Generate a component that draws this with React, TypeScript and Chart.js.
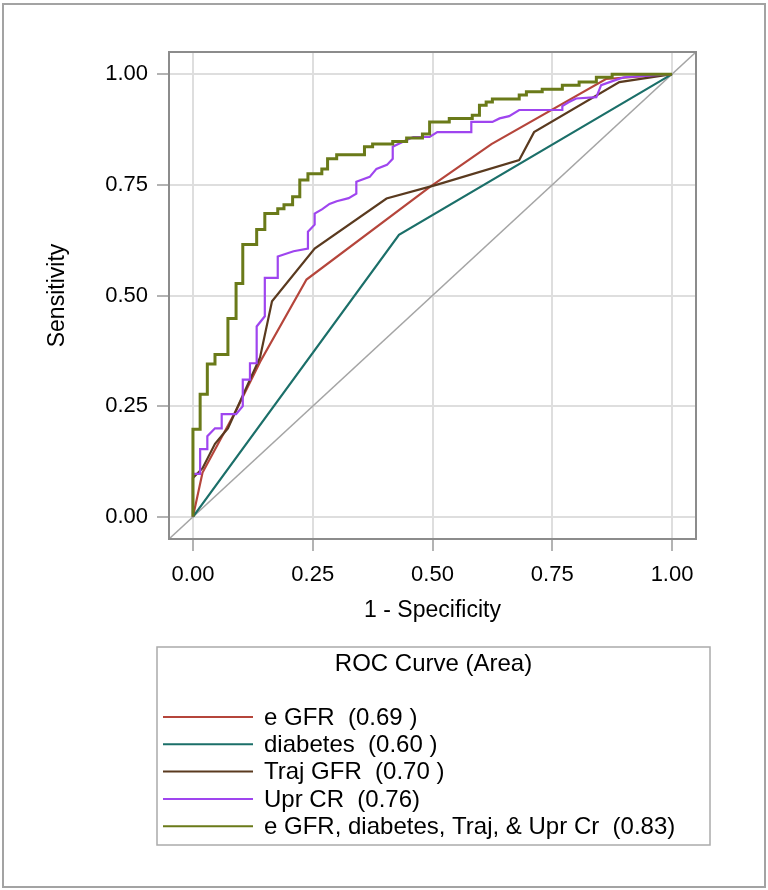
import React, { useEffect, useRef } from "react";
import { Chart, registerables } from "chart.js";

Chart.register(...registerables);

// ---------- data ----------
const tickValues = [0, 0.25, 0.5, 0.75, 1];
const axisMin = -0.05;
const axisMax = 1.05;

const refX = [-0.05, 1.05];
const refY = [-0.05, 1.05];

const egfrX = [0, 0.02, 0.09, 0.14, 0.237, 0.494, 0.623, 0.862, 1];
const egfrY = [0, 0.1, 0.24, 0.35, 0.536, 0.745, 0.842, 0.989, 1];

const diabetesX = [0, 0.43, 1];
const diabetesY = [0, 0.637, 1];

const trajX = [0, 0, 0.02, 0.046, 0.073, 0.14, 0.165, 0.254, 0.404, 0.508, 0.681, 0.712, 0.89, 1];
const trajY = [0, 0.088, 0.11, 0.165, 0.2, 0.36, 0.487, 0.606, 0.719, 0.75, 0.806, 0.869, 0.982, 1];

const uprX = [
  0, 0, 0.015, 0.015, 0.03, 0.03, 0.046, 0.06, 0.06, 0.09, 0.104, 0.104, 0.119, 0.119, 0.133, 0.133,
  0.15, 0.15, 0.177, 0.177, 0.21, 0.24, 0.24, 0.254, 0.254, 0.27, 0.285, 0.3, 0.325, 0.341, 0.341,
  0.369, 0.383, 0.405, 0.417, 0.417, 0.446, 0.46, 0.494, 0.51, 0.581, 0.581, 0.625, 0.64, 0.66, 0.681,
  0.771, 0.771, 0.785, 0.8, 0.842, 0.852, 0.883, 0.9, 1,
];
const uprY = [
  0, 0.097, 0.097, 0.153, 0.153, 0.182, 0.2, 0.2, 0.232, 0.232, 0.25, 0.31, 0.31, 0.347, 0.347, 0.43,
  0.453, 0.54, 0.54, 0.588, 0.6, 0.606, 0.644, 0.66, 0.685, 0.695, 0.707, 0.713, 0.72, 0.73, 0.757,
  0.768, 0.786, 0.795, 0.809, 0.836, 0.851, 0.858, 0.858, 0.869, 0.869, 0.892, 0.892, 0.9, 0.905, 0.919,
  0.919, 0.928, 0.937, 0.945, 0.948, 0.975, 0.987, 0.993, 1,
];

const combX = [
  0, 0, 0.015, 0.015, 0.03, 0.03, 0.046, 0.046, 0.073, 0.073, 0.09, 0.09, 0.104, 0.104, 0.133, 0.133,
  0.15, 0.15, 0.177, 0.177, 0.19, 0.19, 0.208, 0.208, 0.223, 0.223, 0.24, 0.24, 0.269, 0.269, 0.281,
  0.281, 0.3, 0.3, 0.358, 0.358, 0.375, 0.375, 0.417, 0.417, 0.446, 0.446, 0.479, 0.479, 0.494, 0.494,
  0.535, 0.535, 0.583, 0.583, 0.598, 0.598, 0.612, 0.612, 0.625, 0.625, 0.681, 0.681, 0.696, 0.696,
  0.729, 0.729, 0.771, 0.771, 0.806, 0.806, 0.842, 0.842, 0.875, 0.875, 1,
];
const combY = [
  0, 0.198, 0.198, 0.277, 0.277, 0.345, 0.345, 0.367, 0.367, 0.448, 0.448, 0.527, 0.527, 0.615, 0.615,
  0.649, 0.649, 0.685, 0.685, 0.696, 0.696, 0.705, 0.705, 0.723, 0.723, 0.761, 0.761, 0.775, 0.775,
  0.786, 0.786, 0.809, 0.809, 0.818, 0.818, 0.836, 0.836, 0.842, 0.842, 0.848, 0.848, 0.856, 0.856,
  0.865, 0.865, 0.892, 0.892, 0.9, 0.9, 0.907, 0.907, 0.93, 0.93, 0.937, 0.937, 0.944, 0.944, 0.953,
  0.953, 0.96, 0.96, 0.966, 0.966, 0.975, 0.975, 0.982, 0.982, 0.993, 0.993, 1, 1,
];

const seriesLabels = [
  "e GFR  (0.69 )",
  "diabetes  (0.60 )",
  "Traj GFR  (0.70 )",
  "Upr CR  (0.76)",
  "e GFR, diabetes, Traj, & Upr Cr  (0.83)",
];
const legendTitle = "ROC Curve (Area)";
const xTitle = "1 - Specificity";
const yTitle = "Sensitivity";

// ---------- styles ----------
const FONT = '"Liberation Sans", Arial, sans-serif';
const COLORS = ["#b5453b", "#1b6f69", "#5a3a1f", "#9f45ef", "#6a7a19"];
const WIDTHS = [2.2, 2.2, 2.2, 2.2, 3];

const toPts = (xs: number[], ys: number[]) => xs.map((x, i) => ({ x, y: ys[i] }));

const LEGEND = { left: 157, top: 647, width: 553, height: 198, titleY: 664, firstY: 717, step: 27.3, lineX0: 163, lineX1: 253, textX: 264 };

const decorPlugin = {
  id: "decor",
  beforeDraw(chart: any) {
    const ctx = chart.ctx;
    ctx.save();
    ctx.fillStyle = "#ffffff";
    ctx.fillRect(0, 0, chart.width, chart.height);
    ctx.strokeStyle = "#a3a3a3";
    ctx.lineWidth = 2;
    ctx.strokeRect(3, 4, chart.width - 6, chart.height - 7);
    ctx.restore();
  },
  afterDatasetsDraw(chart: any) {
    const { left, top, right, bottom } = chart.chartArea;
    const ctx = chart.ctx;
    ctx.save();
    ctx.strokeStyle = "#8c8c8c";
    ctx.lineWidth = 2;
    ctx.strokeRect(left, top, right - left, bottom - top);
    ctx.restore();
  },
  afterDraw(chart: any) {
    const ctx = chart.ctx;
    const L = LEGEND;
    ctx.save();
    ctx.strokeStyle = "#ababab";
    ctx.lineWidth = 1.5;
    ctx.strokeRect(L.left, L.top, L.width, L.height);
    ctx.fillStyle = "#000";
    ctx.font = `24px ${FONT}`;
    ctx.textAlign = "center";
    ctx.textBaseline = "middle";
    ctx.fillText(legendTitle, L.left + L.width / 2, L.titleY);
    ctx.textAlign = "left";
    const items = chart.data.datasets.filter((d: any) => d.label);
    items.forEach((d: any, i: number) => {
      const y = L.firstY + i * L.step;
      ctx.strokeStyle = d.borderColor;
      ctx.lineWidth = 2;
      ctx.beginPath();
      ctx.moveTo(L.lineX0, y);
      ctx.lineTo(L.lineX1, y);
      ctx.stroke();
      ctx.fillStyle = "#000";
      ctx.fillText(d.label, L.textX, y + 1);
    });
    ctx.restore();
  },
};

export default function App() {
  const ref = useRef<HTMLCanvasElement | null>(null);
  useEffect(() => {
    if (!ref.current) return;
    const series = [
      [egfrX, egfrY],
      [diabetesX, diabetesY],
      [trajX, trajY],
      [uprX, uprY],
      [combX, combY],
    ];
    const datasets: any[] = series.map((s, i) => ({
      label: seriesLabels[i],
      data: toPts(s[0], s[1]),
      borderColor: COLORS[i],
      backgroundColor: COLORS[i],
      borderWidth: WIDTHS[i],
      showLine: true,
      pointRadius: 0,
      tension: 0,
      order: 5 - i,
    }));
    datasets.push({
      label: "",
      data: toPts(refX, refY),
      borderColor: "#a5a5a5",
      borderWidth: 1.5,
      showLine: true,
      pointRadius: 0,
      order: 10,
    });
    const setTicks = (scale: any) => {
      scale.ticks = tickValues.map((v) => ({ value: v }));
    };
    const chart = new Chart(ref.current, {
      type: "scatter",
      data: { datasets },
      plugins: [decorPlugin],
      options: {
        animation: false,
        responsive: false,
        devicePixelRatio: 1,
        layout: { padding: { left: 0, right: 72, top: 52, bottom: 261 } },
        plugins: { legend: { display: false }, tooltip: { enabled: false } },
        scales: {
          x: {
            type: "linear",
            min: axisMin,
            max: axisMax,
            afterBuildTicks: setTicks,
            afterFit: (s: any) => {
              s.height = 90;
            },
            border: { display: false },
            grid: { color: "#dedede", lineWidth: 2, tickLength: 12, tickColor: "#9a9a9a", tickWidth: 1.5 },
            ticks: {
              callback: (v: any) => Number(v).toFixed(2),
              color: "#000",
              padding: 11,
              maxRotation: 0,
              font: { family: FONT, size: 22 },
            },
            title: { display: true, text: xTitle, color: "#000", padding: { top: 0, bottom: 5 }, font: { family: FONT, size: 23 } },
          },
          y: {
            type: "linear",
            min: axisMin,
            max: axisMax,
            afterBuildTicks: setTicks,
            afterFit: (s: any) => {
              s.width = 169;
            },
            border: { display: false },
            grid: { color: "#dedede", lineWidth: 2, tickLength: 12, tickColor: "#9a9a9a", tickWidth: 1.5 },
            ticks: {
              callback: (v: any) => Number(v).toFixed(2),
              color: "#000",
              padding: 9,
              font: { family: FONT, size: 22 },
            },
            title: { display: true, text: yTitle, color: "#000", padding: { top: 44, bottom: 0 }, font: { family: FONT, size: 23 } },
          },
        },
      },
    });
    return () => chart.destroy();
  }, []);
  return (
    <div style={{ position: "absolute", left: 0, top: 0, width: 768, height: 890, background: "#fff" }}>
      <canvas ref={ref} width={768} height={890} style={{ display: "block", width: 768, height: 890 }} />
    </div>
  );
}
